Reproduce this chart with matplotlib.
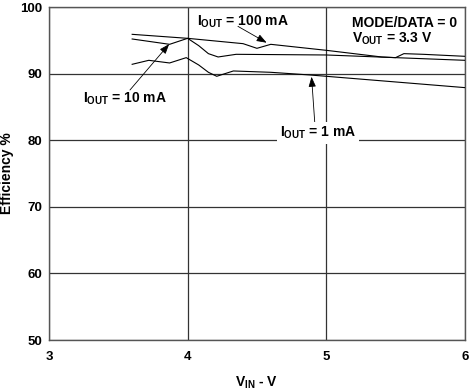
import matplotlib
matplotlib.use("Agg")
import matplotlib.pyplot as plt

plt.rcParams['font.family'] = ['Liberation Sans', 'DejaVu Sans']
plt.rcParams['font.weight'] = 'bold'
plt.rcParams['mathtext.fontset'] = 'custom'
plt.rcParams['mathtext.rm'] = 'Liberation Sans:bold'
plt.rcParams['mathtext.it'] = 'Liberation Sans:bold'
plt.rcParams['mathtext.bf'] = 'Liberation Sans:bold'

# Data
vin_100 = [3.6, 4.0, 4.4, 4.5, 4.6, 5.0, 5.4, 5.5, 5.56, 5.7, 6.0]
eff_100 = [95.9, 95.3, 94.5, 93.8, 94.4, 93.5, 92.5, 92.4, 93.0, 92.9, 92.6]

vin_10 = [3.6, 3.87, 4.0, 4.08, 4.15, 4.22, 4.35, 5.0, 5.5, 6.0]
eff_10 = [95.2, 94.4, 95.3, 94.2, 93.0, 92.5, 92.9, 92.8, 92.4, 92.0]

vin_1 = [3.6, 3.72, 3.87, 3.99, 4.08, 4.15, 4.21, 4.33, 4.6, 4.88, 5.0, 5.5, 6.0]
eff_1 = [91.4, 92.0, 91.6, 92.4, 91.3, 90.2, 89.6, 90.4, 90.2, 89.8, 89.6, 88.75, 87.9]

x_ticks = [3, 4, 5, 6]
y_ticks = [50, 60, 70, 80, 90, 100]

fig = plt.figure(figsize=(4.71, 3.90), dpi=100)
ax = fig.add_axes([0.104, 0.128, 0.883, 0.854])

for v, e in [(vin_100, eff_100), (vin_10, eff_10), (vin_1, eff_1)]:
    ax.plot(v, e, color='black', lw=0.8, zorder=3)

ax.set_xlim(3, 6)
ax.set_ylim(50, 100)
ax.set_xticks(x_ticks)
ax.set_yticks(y_ticks)
ax.grid(True, color='#333333', lw=0.9, zorder=1)
ax.set_axisbelow(True)
for s in ax.spines.values():
    s.set_color('#555555')
    s.set_linewidth(1.0)
ax.tick_params(axis='x', length=0, pad=8, labelsize=9.5)
ax.tick_params(axis='y', length=0, pad=5, labelsize=9.5)
for lab in ax.get_xticklabels() + ax.get_yticklabels():
    lab.set_fontweight('bold')

ax.set_xlabel(r'V$_{\mathrm{IN}}$ - V', fontsize=10, fontweight='bold')
ax.set_ylabel('Efficiency %', fontsize=10, fontweight='bold')
ax.xaxis.set_label_coords(0.5, -0.105)
ax.yaxis.set_label_coords(-0.085, 0.5)

arrow = dict(arrowstyle='-|>,head_length=0.6,head_width=0.22', color='black',
             lw=0.6, shrinkA=0, shrinkB=0)

fs = 10
ax.text(4.067, 97.2, r'I$_{\mathrm{OUT}}$ = 100 mA', fontsize=fs, fontweight='bold',
        ha='left', va='baseline', zorder=5)
ax.annotate('', xy=(4.57, 94.64), xytext=(4.363, 97.1), arrowprops=arrow, zorder=4)

ax.text(3.247, 85.6, r'I$_{\mathrm{OUT}}$ = 10 mA', fontsize=fs, fontweight='bold',
        ha='left', va='baseline', zorder=5)
ax.annotate('', xy=(3.867, 94.44), xytext=(3.584, 87.54), arrowprops=arrow, zorder=4)

ax.text(4.665, 80.5, r'I$_{\mathrm{OUT}}$ = 1 mA', fontsize=fs, fontweight='bold',
        ha='left', va='baseline', zorder=5,
        bbox=dict(facecolor='white', edgecolor='none', pad=2))
ax.annotate('', xy=(4.894, 89.53), xytext=(4.918, 82.4), arrowprops=arrow, zorder=4)

ax.text(5.185, 97.05, 'MODE/DATA = 0', fontsize=fs, fontweight='bold',
        ha='left', va='baseline', zorder=5)
ax.text(5.185, 94.7, r'V$_{\mathrm{OUT}}$ = 3.3 V', fontsize=fs, fontweight='bold',
        ha='left', va='baseline', zorder=5)

fig.savefig('out.png', dpi=100)
